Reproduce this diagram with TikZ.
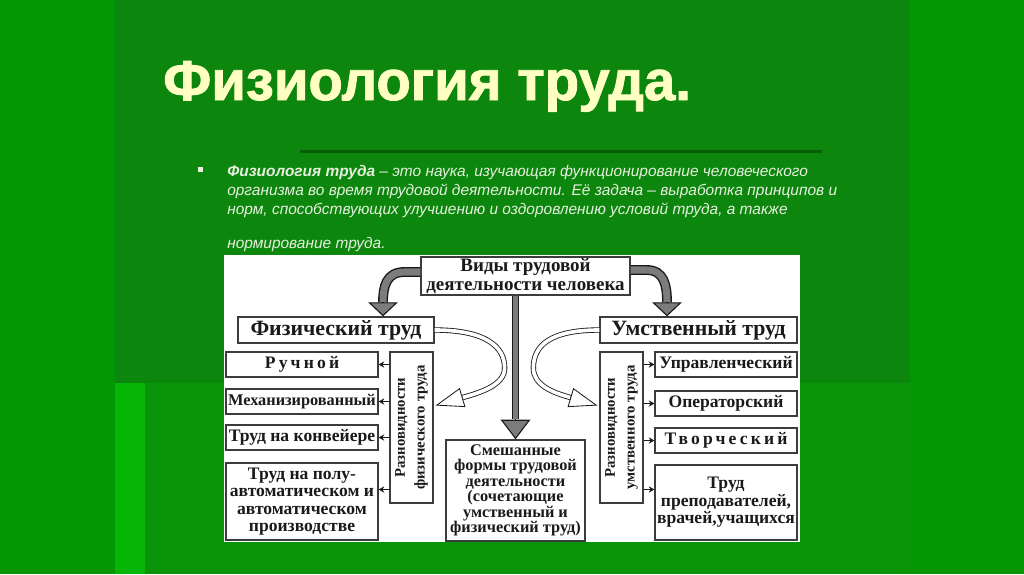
\documentclass[tikz,border=0pt]{standalone}
\usepackage{fontspec}
\setmainfont{Liberation Serif}
\newfontfamily\slidefont{Liberation Sans}
\newfontfamily\titlefont[FakeBold=1.6]{Liberation Sans}
\newfontfamily\spacedfont[LetterSpace=18]{Liberation Serif}
\usetikzlibrary{arrows.meta,calc}
\definecolor{outerbg}{HTML}{059605}
\definecolor{slidebg}{HTML}{0C860C}
\definecolor{brightbg}{HTML}{06B606}
\definecolor{lowbg}{HTML}{0A940A}
\definecolor{titlefg}{HTML}{FFFFC4}
\definecolor{bodyfg}{HTML}{E6F0DE}
\definecolor{ink}{HTML}{1A1A1A}
\definecolor{frame}{HTML}{3C3C3C}
\definecolor{arrowgrey}{HTML}{7C7C7C}
\tikzset{
  box/.style={draw=frame,fill=white,line width=0.9pt,inner sep=0pt,
              align=center,text=ink},
  kindbox/.style={box,minimum width=4.9cm,minimum height=0.65cm,
                  font=\bfseries\fontsize{15.5}{16}\selectfont},
  itembox/.style={box,minimum height=0.625cm,
                  font=\bfseries\fontsize{12.5}{12.5}\selectfont},
  sortbox/.style={box,minimum width=1.075cm,minimum height=3.775cm},
  sortlabel/.style={rotate=90,align=center,text=ink,
                    font=\bfseries\fontsize{10.5}{14}\selectfont},
  greyshaft/.style={draw=arrowgrey,line width=5pt,
                    preaction={draw=ink,line width=7pt}},
  greystem/.style={draw=arrowgrey,line width=3.8pt,
                   preaction={draw=ink,line width=5.6pt}},
  greyhead/.style={draw=ink,line width=0.8pt,
                   -{Triangle[length=10pt,width=21pt,fill=arrowgrey]}},
  hollow/.style={draw=ink,double=white,double distance=2.6pt,line width=0.6pt},
  hollowhead/.style={draw=ink,line width=0.6pt,
                     -{Triangle[length=20pt,width=14pt,fill=white]}},
  subarrow/.style={draw=ink,line width=0.9pt,-{Stealth[length=4pt,width=4.5pt]}},
  bodyline/.style={anchor=base west,text=bodyfg,inner sep=0pt,
                   font=\slidefont\itshape\fontsize{11}{12}\selectfont},
}

\begin{document}
\begin{tikzpicture}[x=0.025cm,y=-0.025cm]
  \useasboundingbox (0,0) rectangle (1024,574);
  % slide background
  \fill[outerbg] (0,0) rectangle (1024,574);
  \fill[slidebg] (115,0) rectangle (910,574);
  \fill[slidebg!70!black] (300,150) rectangle (822,153);
  \fill[brightbg] (115,383) rectangle (145,574);
  \fill[lowbg] (145,383) rectangle (910,574);

  % title
  \node[anchor=base west,inner sep=0pt,text=titlefg,
        font=\titlefont\bfseries\fontsize{40}{40}\selectfont]
    (title) at (163,100) {Физиология труда.};

  % definition
  \fill[bodyfg] (198,167) rectangle (203,172);
  \node[bodyline] (line1) at (227,176)
    {\textbf{Физиология труда} – это наука, изучающая функционирование человеческого};
  \node[bodyline] (line2) at (227,195)
    {организма во время трудовой деятельности. Её задача – выработка принципов и};
  \node[bodyline] (line3) at (227,214)
    {норм, способствующих улучшению и оздоровлению условий труда, а также};
  \node[bodyline] (line4) at (227,248) {нормирование труда.};

  % scheme
  \fill[white] (224,255) rectangle (800,542);
  \node[box,minimum width=5.225cm,minimum height=0.95cm,
        font=\bfseries\fontsize{13.5}{13}\selectfont]
    (vid) at (525.5,276) {Виды трудовой\\деятельности человека};
  \node[kindbox] (fiz) at (336,330) {Физический труд};
  \node[kindbox,minimum width=4.925cm] (umst) at (698.5,330) {Умственный труд};

  \node[itembox,minimum width=3.8cm] (ruch) at (302,364.5) {\spacedfont Ручной};
  \node[itembox,minimum width=3.8cm,font=\bfseries\fontsize{11.6}{12}\selectfont]
    (mech) at (302,401.5) {Механизированный};
  \node[itembox,minimum width=3.8cm] (konv) at (302,437.5) {Труд на конвейере};
  \node[itembox,minimum width=3.8cm,minimum height=1.925cm] (polu) at (302,501.5)
    {Труд на полу-\\автоматическом и\\автоматическом\\производстве};

  \node[itembox,minimum width=3.55cm] (upr) at (726,364.5) {Управленческий};
  \node[itembox,minimum width=3.55cm] (oper) at (726,403.5) {Операторский};
  \node[itembox,minimum width=3.55cm] (tvor) at (726,440.5) {\spacedfont Творческий};
  \node[itembox,minimum width=3.55cm,minimum height=1.875cm] (prep) at (726,502.5)
    {Труд\\преподавателей,\\врачей,учащихся};

  \node[sortbox] (razfiz) at (411.5,427.5) {};
  \node[sortlabel] (razfiztxt) at (razfiz.center) {Разновидности\\физического труда};
  \node[sortbox] (razum) at (621.5,427.5) {};
  \node[sortlabel] (razumtxt) at (razum.center) {Разновидности\\умственного труда};

  \node[box,minimum width=3.475cm,minimum height=2.525cm,
        font=\bfseries\fontsize{11.6}{11}\selectfont]
    (mix) at (515.5,490.5)
    {Смешанные\\формы трудовой\\деятельности\\(сочетающие\\умственный и\\физический труд)};

  % grey arrows
  \coordinate (fizhead) at ($(fiz.north)+(47,-14)$);
  \coordinate (umsthead) at ($(umst.north)+(-31.5,-14)$);
  \coordinate (mixhead) at ($(mix.north)+(0,-20)$);
  \draw[greyshaft] ($(vid.west)+(0,-4)$) -- ++(-16,0)
    .. controls +(-18,0) and +(0,-16) .. (fizhead);
  \draw[greyhead] (fizhead) -- ($(fiz.north)+(47,0)$);
  \draw[greyshaft] ($(vid.east)+(0,-6)$) -- ++(16,0)
    .. controls +(18,0) and +(0,-16) .. (umsthead);
  \draw[greyhead] (umsthead) -- ($(umst.north)+(-31.5,0)$);
  \draw[greystem] (vid.south -| mix.north) -- (mixhead);
  \draw[greyhead,-{Triangle[length=14pt,width=21pt,fill=arrowgrey]}]
    (mixhead) -- (mix.north);

  % hollow arrows
  \coordinate (fiztip) at ($(razfiz.east)+(2,-22)$);
  \coordinate (fizback) at ($(fiztip)+(27,-8)$);
  \draw[hollow] (fiz.east) .. controls +(50,0) and +(0,-22) .. ++(70,38)
    .. controls +(0,17) and +(18,-5) .. (fizback);
  \draw[hollowhead] (fizback) -- (fiztip);
  \coordinate (umtip) at ($(razum.west)+(-2,-22)$);
  \coordinate (umback) at ($(umtip)+(-27,-8)$);
  \draw[hollow] (umst.west) .. controls +(-50,0) and +(0,-22) .. ++(-66,38)
    .. controls +(0,17) and +(-18,-5) .. (umback);
  \draw[hollowhead] (umback) -- (umtip);

  % small arrows
  \foreach \b/\dy in {ruch/0,mech/0,konv/0,polu/-12}
    \draw[subarrow] ($(razfiz.west |- \b.east)+(0,\dy)$) -- ($(\b.east)+(0,\dy)$);
  \foreach \b/\dy in {upr/0,oper/0,tvor/0,prep/-13}
    \draw[subarrow] ($(razum.east |- \b.west)+(0,\dy)$) -- ($(\b.west)+(0,\dy)$);
\end{tikzpicture}
\end{document}
